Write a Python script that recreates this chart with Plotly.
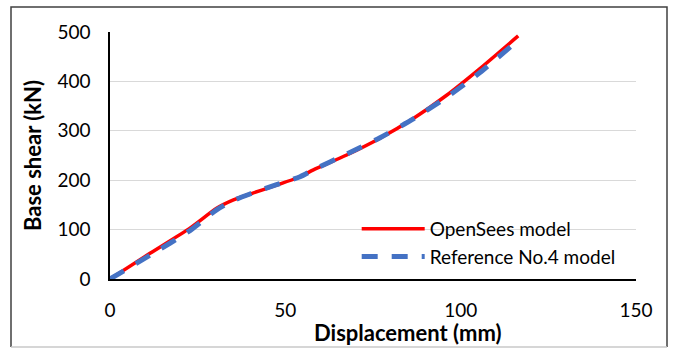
import plotly.graph_objects as go

# Pushover curves: displacement (mm) vs base shear (kN)
opensees_disp = [0, 11.4, 22.8, 30.4, 35.2, 39.9, 47.5, 54.2, 58.0, 67.5, 77.0, 86.5, 96.0, 105.5, 116.4]
opensees_shear = [0, 52, 103, 143, 160, 172, 190, 207, 221, 251, 285, 325, 372, 426, 492]

reference_disp = [0, 11.4, 22.8, 30.4, 35.2, 39.9, 47.5, 54.2, 58.0, 67.5, 77.0, 86.5, 96.0, 105.5, 116.0]
reference_shear = [0, 48, 98, 140, 159, 172, 191, 207, 221, 253, 286, 324, 368, 418, 481]

x_ticks = [0, 50, 100, 150]
y_ticks = [0, 100, 200, 300, 400, 500]

FONT = "Lato"

# plot area in pixels: left 110, right 636, top 32, bottom 279
PW, PH = 526, 247


def px_x(p):
    return (p - 110) / PW


def px_y(p):
    return (279 - p) / PH


fig = go.Figure()
fig.add_trace(go.Scatter(
    x=opensees_disp, y=opensees_shear, mode="lines", name="OpenSees model",
    line=dict(color="#ff0000", width=3.5, shape="spline", smoothing=0.6),
))
fig.add_trace(go.Scatter(
    x=reference_disp, y=reference_shear, mode="lines", name="Reference No.4 model",
    line=dict(color="#4472c4", width=5, dash="16px,14px", shape="spline", smoothing=0.6),
))

x0, x1, y0, y1 = px_x(11), px_x(667), px_y(347), px_y(7)

fig.update_layout(
    width=673, height=348,
    margin=dict(l=110, r=37, t=32, b=69, autoexpand=False),
    paper_bgcolor="white", plot_bgcolor="white",
    font=dict(family=FONT, size=19, color="#000000"),
    showlegend=True,
    legend=dict(
        x=0.469, y=0.146, xanchor="left", yanchor="middle",
        bgcolor="rgba(0,0,0,0)", font=dict(family=FONT, size=19, color="#000000"),
        itemwidth=63, tracegroupgap=0,
    ),
    xaxis=dict(
        range=[0, 150], tickvals=x_ticks, showgrid=False, zeroline=False,
        showline=True, linecolor="#000000", linewidth=1.5, ticks="",
        ticklabelstandoff=13, automargin=False,
    ),
    yaxis=dict(
        range=[0, 500], tickvals=y_ticks, showgrid=True, gridcolor="#d9d9d9", gridwidth=1.3,
        zeroline=False, showline=True, linecolor="#000000", linewidth=1.5, ticks="",
        ticklabelstandoff=14, automargin=False,
        title=dict(text="<b>Base shear (kN)</b>", font=dict(family=FONT, size=22), standoff=10),
    ),
    annotations=[dict(
        text="<b>Displacement (mm)</b>", xref="paper", yref="paper",
        x=px_x(408), y=px_y(332), xanchor="center", yanchor="middle",
        showarrow=False, font=dict(family=FONT, size=22, color="#000000"),
    )],
    shapes=[
        # chart frame: dark top/left/right, lighter bottom edge
        dict(type="path", xref="paper", yref="paper", layer="below",
             path=f"M {x0},{y0} L {x0},{y1} L {x1},{y1} L {x1},{y0}",
             line=dict(color="#404040", width=1.5)),
        dict(type="line", xref="paper", yref="paper", layer="below",
             x0=x0, x1=x1, y0=y0, y1=y0,
             line=dict(color="#c8c8c8", width=1.5)),
    ],
)

fig.write_html("out.html")
